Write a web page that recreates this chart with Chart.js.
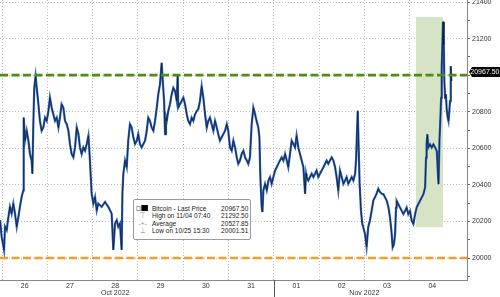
<!DOCTYPE html>
<html><head><meta charset="utf-8">
<script src="https://cdn.jsdelivr.net/npm/chart.js@4"></script>
<style>
html,body{margin:0;padding:0;background:#fff;}
#wrap{position:relative;width:500px;height:297px;overflow:hidden;}
canvas{display:block;}
#legend{position:absolute;left:133px;top:199px;width:116px;height:39px;border:1px solid #9a9a9a;border-radius:2px;background:#fff;box-sizing:content-box;overflow:hidden;}
#inner{position:absolute;left:0;top:0;width:142px;height:39px;transform:scaleX(0.817);transform-origin:0 0;font:8px "Liberation Sans",Arial,sans-serif;color:#222;}
#inner .row{position:absolute;left:0;right:0;height:8px;line-height:8px;white-space:nowrap;}
#inner .ic{position:absolute;left:3px;width:15px;text-align:center;color:#888;}
#inner .lb{position:absolute;left:22px;}
#inner .vl{position:absolute;right:2px;}
.chk{display:inline-block;width:3px;height:3px;border:1px solid #999;vertical-align:middle;margin-right:1px;}
.sq{display:inline-block;width:8px;height:6px;background:#000;vertical-align:middle;}
</style>
</head><body>
<div id="wrap">
<canvas id="c" width="500" height="297"></canvas>
<div id="legend"><div id="inner">
  <div class="row" style="top:4.5px"><span class="ic" style="left:2px"><span class="chk"></span><span class="sq"></span></span><span class="lb">Bitcoin - Last Price</span><span class="vl">20967.50</span></div>
  <div class="row" style="top:12px"><span class="ic">&#8868;</span><span class="lb">High on 11/04 07:40</span><span class="vl">21292.50</span></div>
  <div class="row" style="top:19.5px"><span class="ic">-+-</span><span class="lb">Average</span><span class="vl">20527.85</span></div>
  <div class="row" style="top:27px"><span class="ic">&#8869;</span><span class="lb">Low on 10/25 15:30</span><span class="vl">20001.51</span></div>
</div></div>
</div>
<script>
// hours since 26 Oct 2022 00:00
const hours = [-1.0,-0.2,1.1,1.6,2.5,3.4,4.2,5.1,6.0,6.9,7.8,8.7,9.5,10.4,11.3,11.5,12.2,13.1,14.0,14.8,15.7,16.1,16.6,17.1,17.8,18.4,19.3,20.1,21.0,21.9,22.8,23.7,24.6,25.4,26.3,27.2,28.1,29.0,29.9,30.7,31.6,32.5,33.4,34.3,35.2,36.0,36.9,37.8,38.7,39.6,40.5,41.3,42.2,43.1,44.0,44.9,45.8,46.6,47.5,48.4,49.3,50.2,51.0,52.8,54.6,56.3,58.1,59.0,59.9,60.8,61.6,62.5,63.4,63.8,64.3,65.2,66.1,66.9,67.8,68.7,69.6,70.5,71.4,72.2,73.1,74.0,74.9,75.8,76.7,77.5,78.4,79.3,80.2,81.1,82.0,82.8,83.7,84.6,85.2,85.9,86.4,86.9,87.3,88.1,89.0,89.9,90.8,91.7,92.6,93.1,93.4,94.3,95.2,96.1,97.0,97.9,98.7,99.6,100.5,101.4,102.3,103.2,104.0,104.9,105.8,106.7,107.6,108.5,109.3,110.2,111.1,112.0,112.9,113.8,114.6,115.5,116.4,117.3,118.2,119.1,119.9,120.8,121.7,122.6,123.5,124.4,125.2,126.1,127.0,127.9,128.8,129.7,130.5,131.4,132.3,133.2,134.1,134.9,135.8,136.4,136.9,137.6,138.0,138.5,139.4,140.3,141.2,142.0,142.9,143.8,144.7,145.6,146.4,147.3,148.2,149.1,150.0,150.9,151.7,152.6,153.5,154.4,155.3,156.1,157.0,157.9,158.8,159.7,160.6,161.1,161.4,162.3,163.2,164.1,165.0,165.9,166.7,167.6,168.5,169.4,170.3,171.2,172.0,172.9,173.8,174.7,175.6,176.5,177.3,178.2,179.1,180.0,180.9,181.8,182.6,183.5,184.4,185.3,186.2,187.1,187.6,188.5,189.0,189.5,190.2,190.9,191.6,192.3,193.2,194.1,195.0,195.9,196.8,197.7,198.5,199.4,200.3,201.2,202.1,203.9,204.8,205.6,206.5,207.0,207.7,208.3,208.8,209.1,210.0,210.9,211.8,212.7,213.6,214.4,215.3,216.2,217.1,218.0,218.9,219.7,220.6,221.5,222.4,223.3,224.2,224.7,225.0,225.4,225.9,226.8,227.7,228.6,229.5,230.4,231.3,231.8,232.1,232.7,233.0,233.4,233.7,234.1,234.4,234.8,235.2,235.7,236.2,236.6,236.9,237.4,237.8,238.1];
const prices = [20207,20117,20044,20171,20153,20225,20280,20243,20298,20243,20171,20225,20280,20334,20370,20768,20642,20696,20642,20569,20533,20461,20732,20931,20995,20931,20841,20750,20696,20714,20768,20750,20804,20877,20823,20786,20750,20768,20714,20768,20841,20823,20750,20732,20696,20624,20569,20551,20605,20714,20678,20605,20569,20605,20587,20624,20669,20533,20352,20298,20334,20261,20298,20280,20307,20280,20243,20044,20189,20207,20171,20189,20044,20352,20461,20533,20497,20642,20732,20714,20660,20624,20642,20678,20624,20605,20624,20642,20696,20768,20750,20714,20696,20750,20823,20895,20949,21067,20967,20859,20678,20768,20750,20804,20841,20895,20931,20913,20859,21004,20823,20841,20859,20877,20841,20786,20750,20732,20768,20750,20786,20804,20814,20859,20940,20877,20786,20714,20750,20768,20732,20696,20750,20714,20678,20642,20660,20678,20696,20732,20696,20605,20587,20642,20605,20551,20515,20533,20569,20587,20551,20533,20515,20551,20732,20823,20786,20750,20714,20660,20443,20280,20252,20370,20406,20370,20424,20443,20406,20443,20479,20497,20515,20533,20551,20533,20569,20533,20497,20569,20642,20624,20605,20669,20605,20569,20533,20497,20352,20461,20443,20424,20443,20461,20443,20461,20479,20443,20461,20479,20497,20515,20533,20515,20533,20551,20533,20497,20443,20370,20479,20443,20406,20424,20443,20406,20424,20443,20424,20461,20533,20805,20605,20406,20262,20189,20162,20135,20062,20171,20207,20261,20316,20334,20352,20379,20361,20352,20349,20313,20276,20222,20131,20058,20076,20131,20276,20313,20295,20276,20258,20240,20258,20276,20240,20258,20204,20186,20240,20276,20295,20313,20331,20349,20386,20549,20622,20676,20604,20622,20604,20622,20604,20585,20404,20640,20713,20876,21040,21185,21292.5,21167,20967,20876,20895,20804,20767,20749,20785,20858,21049,20967.5];
const dayLabels = ['26','27','28','29','30','31','01','02','03','04'];
const monthLabels = [{day:2, text:'Oct 2022', at:'mid'}, {day:8, text:'Nov 2022', at:'start'}];
const levelHigh = 21000;
const levelLow = 20000;
const lastPrice = 20967.50;
const highlightHours = [219.3, 233.7];
const highlightPrices = [20169, 21318];
const yTickStep = 100;
const yLabelStep = 200;
const xMin = -1.06, xMax = 246.4, yMin = 19880, yMax = 21411;
const monthBoundaryHour = 144;

const pts = hours.map((h,i)=>({x:h,y:prices[i]}));
const lvl = v => [{x:xMin,y:v},{x:xMax,y:v}];

const tickVals = [];
for (let d=0; d<dayLabels.length; d++){ tickVals.push(d*24); tickVals.push(d*24+12); }

function xLabel(v){
  const d = Math.floor(v/24), mid = (v % 24) === 12;
  let first = mid ? dayLabels[d] : '';
  let second = '';
  monthLabels.forEach(m=>{
    if (m.day===d && ((m.at==='mid' && mid) || (m.at==='start' && !mid))) second = m.text;
  });
  return second ? [first, second] : first;
}

const extras = {
  id:'extras',
  afterDraw(chart){
    const ctx = chart.ctx, xs = chart.scales.x, ys = chart.scales.y, ca = chart.chartArea;
    const mx = Math.round(xs.getPixelForValue(monthBoundaryHour))+0.5;
    ctx.save();
    ctx.strokeStyle = '#555'; ctx.lineWidth = 1;
    ctx.beginPath(); ctx.moveTo(mx, ca.bottom); ctx.lineTo(mx, chart.height); ctx.stroke();
    const py = Math.round(ys.getPixelForValue(lastPrice) - 9);
    const x0 = ca.right + 2, h = 10;
    ctx.fillStyle = '#000';
    ctx.beginPath();
    ctx.moveTo(x0, py);
    ctx.lineTo(x0+3, py-h/2);
    ctx.lineTo(chart.width, py-h/2);
    ctx.lineTo(chart.width, py+h/2);
    ctx.lineTo(x0+3, py+h/2);
    ctx.closePath(); ctx.fill();
    ctx.fillStyle = '#fff';
    ctx.font = '7px "Liberation Sans", Arial, sans-serif';
    ctx.textBaseline = 'middle'; ctx.textAlign = 'right';
    ctx.fillText(lastPrice.toFixed(2), chart.width - 0.5, py+0.5);
    ctx.restore();
  }
};

new Chart(document.getElementById('c'), {
  type:'line',
  data:{datasets:[
    {data:lvl(levelHigh), borderColor:'#4e8d12', borderWidth:2.6, borderDash:[8,3.5], pointRadius:0, fill:false},
    {data:lvl(levelLow), borderColor:'#f29d2e', borderWidth:2.6, borderDash:[8,3.5], pointRadius:0, fill:false},
    {data:pts, borderColor:'#121c30', borderWidth:0.8, pointRadius:0, fill:false},
    {data:pts, borderColor:'#2b63bd', borderWidth:2.2, pointRadius:0, fill:false},
    {data:[{x:highlightHours[0],y:highlightPrices[1]},{x:highlightHours[1],y:highlightPrices[1]}], borderWidth:0, borderColor:'rgba(0,0,0,0)', backgroundColor:'#d6e3c4', pointRadius:0, fill:{value:highlightPrices[0]}}
  ]},
  options:{
    responsive:false, animation:false, devicePixelRatio:1,
    parsing:false, normalized:true,
    layout:{padding:0},
    plugins:{legend:{display:false}, tooltip:{enabled:false}},
    elements:{line:{tension:0}},
    scales:{
      x:{type:'linear', min:xMin, max:xMax,
        afterBuildTicks(s){ s.ticks = tickVals.map(v=>({value:v})); },
        afterFit(s){ s.height = 17; s.paddingLeft = 0; s.paddingRight = 0; },
        grid:{drawTicks:false, color:(c)=> (c.tick && c.tick.value % 24 === 0) ? '#bdbdbd' : 'rgba(0,0,0,0)', lineWidth:1},
        border:{display:true, color:'#888', width:1, dash:[1,2]},
        ticks:{autoSkip:false, maxRotation:0, padding:2.5, color:'#333',
          font:{family:'"Liberation Sans", Arial, sans-serif', size:7, lineHeight:1.0},
          callback:(v)=>xLabel(v)}
      },
      y:{type:'linear', position:'right', min:yMin, max:yMax,
        afterBuildTicks(s){ const t=[]; for(let v=Math.ceil(yMin/yTickStep)*yTickStep; v<=yMax; v+=yTickStep) t.push({value:v}); s.ticks=t; },
        afterFit(s){ s.width = 33; s.paddingTop = 0; s.paddingBottom = 0; },
        grid:{drawTicks:true, tickLength:3, tickColor:'#666',
          color:(c)=> (c.tick && c.tick.value % yLabelStep === 0) ? '#bdbdbd' : 'rgba(0,0,0,0)'},
        border:{display:true, color:'#888', width:1, dash:[1,2]},
        ticks:{padding:2, color:'#333', font:{family:'"Liberation Sans", Arial, sans-serif', size:7},
          callback:(v)=> v % yLabelStep === 0 ? String(v) : ''}
      }
    }
  },
  plugins:[extras]
});
</script>
</body></html>
